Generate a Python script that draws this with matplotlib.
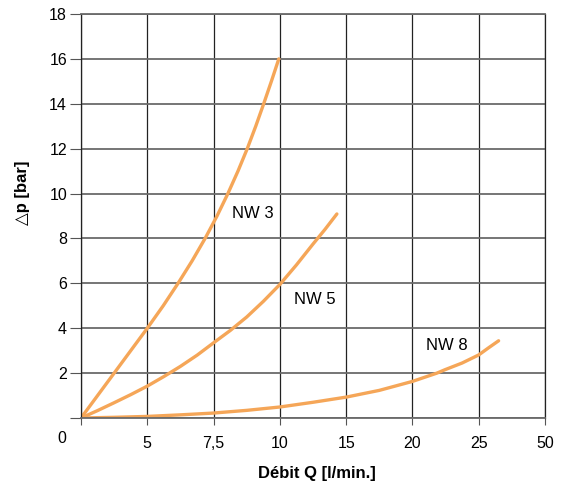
import numpy as np
import matplotlib
matplotlib.use("Agg")
import matplotlib.pyplot as plt

plt.rcParams['font.family'] = ['Liberation Sans', 'DejaVu Sans']

## Axis: equally spaced grid lines carry uneven Q values
q_ticks = [0, 5, 7.5, 10, 15, 20, 25, 50]
q_labels = ['', '5', '7,5', '10', '15', '20', '25', '50']
p_ticks = [0, 2, 4, 6, 8, 10, 12, 14, 16, 18]
p_labels = ['', '2', '4', '6', '8', '10', '12', '14', '16', '18']

## Curves (Q in l/min, dp in bar)
nw3_q = [0, 1.25, 2.5, 3.75, 5.0, 5.6, 6.16, 6.69, 7.18, 7.63, 8.04, 8.42, 8.77, 9.09, 9.39, 9.68, 9.96]
nw3_p = [0, 1, 2, 3, 4, 5, 6, 7, 8, 9, 10, 11, 12, 13, 14, 15, 16]

nw5_q = [0, 1.25, 2.5, 3.75, 5.0, 5.63, 6.25, 6.88, 7.5, 8.13, 8.75, 9.38, 10.0, 11.25, 12.5, 13.4, 14.3]
nw5_p = [0, 0.33, 0.68, 1.04, 1.42, 1.85, 2.3, 2.8, 3.35, 3.9, 4.5, 5.2, 5.95, 6.82, 7.75, 8.4, 9.09]

nw8_q = [0, 2.5, 5, 6.25, 7.5, 8.75, 10, 12.5, 15, 17.5, 20, 21.85, 22.45, 23.75, 25, 28.75, 32.5]
nw8_p = [0, 0.03, 0.07, 0.14, 0.22, 0.34, 0.49, 0.70, 0.93, 1.23, 1.63, 2.0, 2.15, 2.45, 2.81, 3.13, 3.44]

curve_color = '#F5A658'

pos = np.arange(len(q_ticks))


def fwd(x):
    return np.interp(x, q_ticks, pos)


def inv(p):
    return np.interp(p, pos, q_ticks)


fig = plt.figure(figsize=(5.61, 4.91), dpi=100)
ax = fig.add_axes([0.1444, 0.1487, 0.9715 - 0.1444, 0.9715 - 0.1487])
ax.set_xscale('function', functions=(fwd, inv))
ax.set_xlim(0, 50)
ax.set_ylim(0, 18)

ax.set_xticks(q_ticks)
ax.set_xticklabels(q_labels)
ax.set_yticks(p_ticks)
ax.set_yticklabels(p_labels)
ax.minorticks_off()

ax.tick_params(axis='x', direction='out', length=5, width=0.8, color='#555555',
               labelsize=11.5, pad=8)
ax.tick_params(axis='y', direction='out', length=8, width=0.8, color='#555555',
               labelsize=11.5, pad=2)

ax.xaxis.grid(True, color='#222222', linewidth=0.9)
ax.yaxis.grid(True, color='#6a6a6a', linewidth=1.3)
ax.set_axisbelow(True)
for s in ['top', 'bottom']:
    ax.spines[s].set_color('#6a6a6a')
    ax.spines[s].set_linewidth(1.3)
for s in ['left', 'right']:
    ax.spines[s].set_color('#222222')
    ax.spines[s].set_linewidth(0.9)

for qq, pp in [(nw3_q, nw3_p), (nw5_q, nw5_p), (nw8_q, nw8_p)]:
    ax.plot(qq, pp, color=curve_color, lw=2.4, solid_capstyle='round', solid_joinstyle='round')

ax.text(8.98, 9.1, 'NW 3', fontsize=12, ha='center', va='center')
ax.text(12.65, 5.26, 'NW 5', fontsize=12, ha='center', va='center')
ax.text(22.6, 3.21, 'NW 8', fontsize=12, ha='center', va='center')

# the zero label sits below-left of the origin
ax.annotate('0', xy=(0, 0), xycoords='axes fraction', xytext=(-19, -21),
            textcoords='offset pixels', fontsize=11.5, ha='center', va='center')

ax.set_xlabel('Débit Q [l/min.]', fontsize=12, fontweight='bold')
ax.xaxis.set_label_coords(0.509, -0.118)
ax.set_ylabel('△p [bar]', fontsize=12, fontweight='bold')
ax.yaxis.set_label_coords(-0.127, 0.557)
ax.yaxis.label.set_va('center')

fig.savefig('out.png', dpi=100)
